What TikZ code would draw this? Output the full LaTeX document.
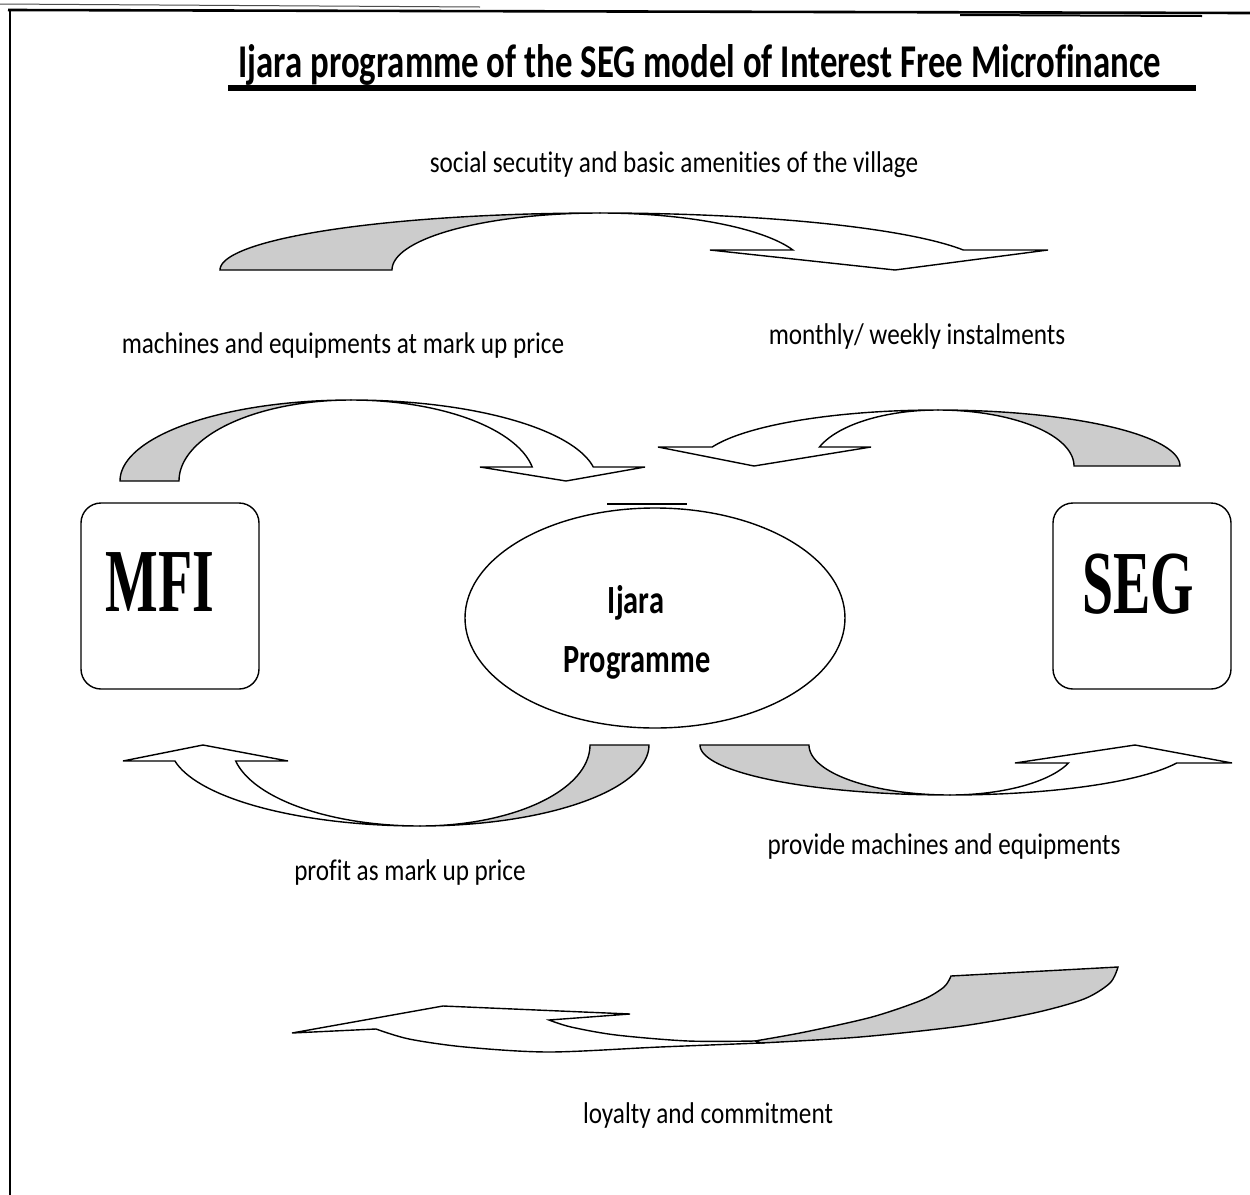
\documentclass[tikz,border=0pt]{standalone}
\usepackage{fontspec}
\setmainfont{Carlito}
\newfontfamily\lblfont[FakeStretch=0.84, Ligatures=NoCommon]{Carlito}
\newfontfamily\headfont[FakeStretch=0.74, Ligatures=NoCommon]{Carlito}
\newfontfamily\midfont[FakeStretch=0.76, Ligatures=NoCommon]{Carlito}
\newfontfamily\boxfont[FakeStretch=0.62]{Liberation Serif}
\usetikzlibrary{shapes.geometric}

\definecolor{bandgray}{RGB}{204,204,204}

% parameters of a curved block arrow (elliptical band with a tail and a head)
\pgfkeys{/blockarc/.cd,
  cx/.store in=\baCx, yb/.store in=\baYb, h/.store in=\baH,
  lo/.store in=\baLo, li/.store in=\baLi, ro/.store in=\baRo, ri/.store in=\baRi,
  hy/.store in=\baHy, ib/.store in=\baIb, ob/.store in=\baOb,
  tx/.store in=\baTx, ty/.store in=\baTy, sx/.store in=\baSx, sy/.store in=\baSy}

% back (grey) half from the tail to the crest, front (white) half from the crest to the head
\newcommand\blockarc[1]{%
  \pgfkeys{/blockarc/.cd,sx=1,sy=1,#1}%
  \pgfmathsetmacro\baEnd{360-asin((\baSy)*(\baYb-\baHy)/\baH)}%
  \filldraw[band back]
    plot[domain=180:270,samples=60,variable=\q]
      ({\baCx+(\baSx)*\baLo*cos(\q)},{\baYb+(\baSy)*\baH*sin(\q)})
    -- plot[domain=270:180,samples=60,variable=\q]
      ({\baCx+(\baSx)*\baLi*cos(\q)},{\baYb+(\baSy)*\baH*sin(\q)})
    -- cycle;
  \filldraw[band front]
    plot[domain=270:\baEnd,samples=60,variable=\q]
      ({\baCx+(\baSx)*\baRo*cos(\q)},{\baYb+(\baSy)*\baH*sin(\q)})
    -- (\baOb,\baHy) -- (\baTx,\baTy) -- (\baIb,\baHy)
    -- plot[domain=\baEnd:270,samples=60,variable=\q]
      ({\baCx+(\baSx)*\baRi*cos(\q)},{\baYb+(\baSy)*\baH*sin(\q)})
    -- cycle;
}

\tikzset{
  band back/.style={fill=bandgray, draw=black, line width=0.7pt},
  band front/.style={fill=white, draw=black, line width=0.7pt},
  flowlabel/.style={font=\lblfont\fontsize{15pt}{18pt}\selectfont, anchor=base, inner sep=0pt},
  headline/.style={font=\headfont\bfseries\fontsize{23.5pt}{28pt}\selectfont, anchor=base, inner sep=0pt},
  midtext/.style={font=\midfont\bfseries\fontsize{20pt}{24pt}\selectfont, anchor=base, inner sep=0pt},
  partytext/.style={font=\boxfont\bfseries\fontsize{45pt}{50pt}\selectfont, anchor=base, inner sep=0pt},
  party/.style={draw, line width=0.7pt, rounded corners=10pt, minimum width=89pt, minimum height=93pt, inner sep=0pt},
}

\begin{document}
\begin{tikzpicture}[x=0.5pt, y=-0.5pt]
\useasboundingbox (0,0) rectangle (1250,1195);
\fill[white] (0,0) rectangle (1250,1195);

% frame lines
\draw[line width=0.5pt, black!70] (0,4) -- (480,7);
\draw[line width=1.3pt] (8,10) -- (1250,13);
\draw[line width=1pt] (960,15) -- (1202,16);
\draw[line width=1.3pt] (10,10) -- (10,1195);

% heading
\node[headline] (title) at (700,77) {Ijara programme of the SEG model of Interest Free Microfinance};
\draw[line width=3pt] (228,88) -- (1196,88);

% the two parties and the programme
\node[party] (mfi) at (170,596) {};
\node[partytext] (mfitext) at (160,611) {MFI};
\node[party] (seg) at (1142,596) {};
\node[partytext] (segtext) at (1138,613) {SEG};
\node[draw, ellipse, line width=0.7pt, minimum width=190pt, minimum height=110pt, inner sep=0pt] (ijara) at (655,618) {};
\draw[line width=0.6pt] (607,504) -- (687,504);
\node[midtext] (ij1) at (636,613) {Ijara};
\node[midtext] (ij2) at (637,672) {Programme};

% flows
\blockarc{cx=600, yb=270, h=57, lo=380, li=208, ro=388, ri=206, hy=250, ib=710, ob=1048, tx=895, ty=270}
\blockarc{cx=351, yb=481, h=81, lo=231, li=172, ro=246, ri=184, hy=467, ib=480, ob=645, tx=566, ty=481}
\blockarc{cx=938, yb=466, h=56, lo=242, li=136, ro=240, ri=126, hy=447, ib=871, ob=658, tx=754, ty=466, sx=-1}
\blockarc{cx=420, yb=745, h=81, lo=229, li=170, ro=250, ri=188, hy=761, ib=288, ob=123, tx=203, ty=745, sx=-1, sy=-1}
\blockarc{cx=950, yb=745, h=50, lo=250, li=141, ro=243, ri=127, hy=763, ib=1015, ob=1232, tx=1135, ty=745, sy=-1}

% loyalty band, seen in perspective
\filldraw[band back]
  plot[smooth] coordinates {(1118,967) (1110,983) (1084,999) (1034,1013) (962,1026) (860,1037) (761,1043)}
  -- plot[smooth] coordinates {(755,1041) (805,1032) (872,1017) (922,1000) (944,987) (951,976)}
  -- cycle;
\filldraw[band front]
  plot[smooth] coordinates {(761,1043) (660,1047) (549,1052) (465,1047) (409,1039) (376,1029)}
  -- (292,1033) -- (443,1006) -- (630,1014) -- (549,1020)
  -- plot[smooth] coordinates {(549,1020) (571,1027) (616,1035) (688,1041) (755,1041)}
  -- cycle;

% flow labels
\node[flowlabel] (l1) at (674,172) {social secutity and basic amenities of the village};
\node[flowlabel] (l2) at (343,353) {machines and equipments at mark up price};
\node[flowlabel] (l3) at (917,344) {monthly/ weekly instalments};
\node[flowlabel] (l4) at (410,880) {profit as mark up price};
\node[flowlabel] (l5) at (944,854) {provide machines and equipments};
\node[flowlabel] (l6) at (708,1123) {loyalty and commitment};
\end{tikzpicture}
\end{document}
